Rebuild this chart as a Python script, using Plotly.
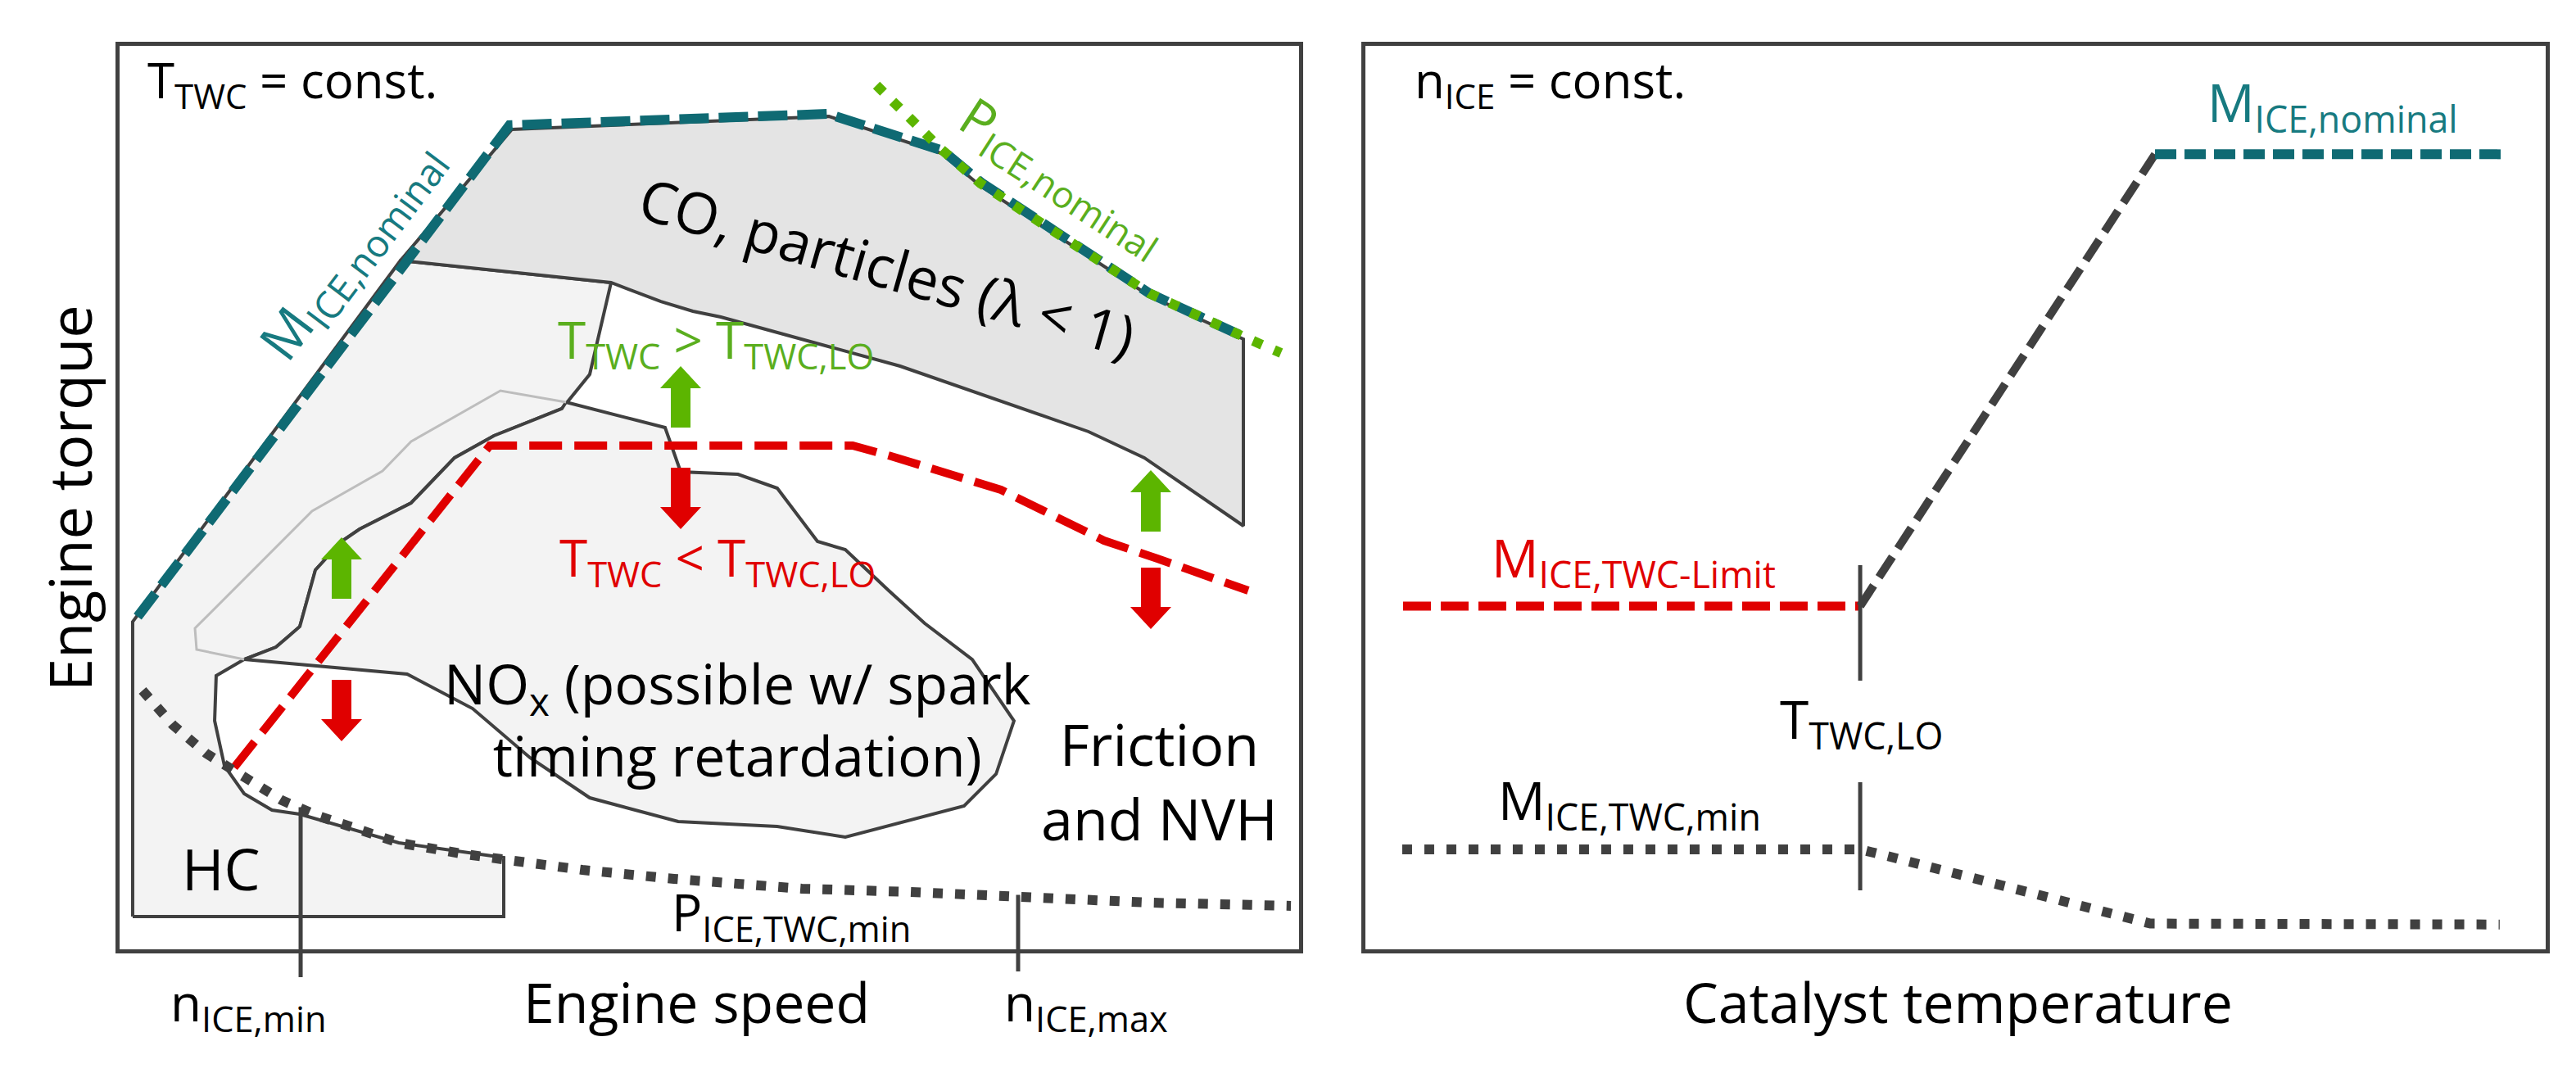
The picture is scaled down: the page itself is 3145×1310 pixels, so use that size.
import plotly.graph_objects as go

# ---------------- LEFT PANEL (normalised engine speed 0..100 / engine torque 0..100) ----------------
# HC / high-load operating region
hc_x = [1.11, 1.11, 23.82, 41.67, 39.86, 37.50, 31.74, 28.40, 24.72, 20.35, 18.82, 16.60, 15.28, 14.24,
        13.26, 10.56, 8.19, 8.06, 8.89, 10.56, 12.92, 15.28, 23.68, 32.57, 32.57, 1.11]
hc_y = [3.63, 36.26, 76.25, 73.80, 63.64, 59.84, 56.85, 54.40, 49.41, 46.51, 45.15, 41.98, 35.72, 34.54,
        33.45, 32.09, 30.28, 25.29, 20.31, 17.23, 15.41, 14.96, 11.79, 10.15, 3.63, 3.63]

# NOx region
nox_x = [37.85, 46.25, 47.57, 52.43, 55.76, 59.17, 61.53, 65.21, 68.26, 72.29, 75.83, 74.31, 71.60, 66.18,
         61.53, 55.76, 47.36, 39.86, 34.79, 29.93, 24.38, 10.56, 13.26, 14.24, 15.28, 16.60, 18.82, 20.35,
         24.72, 28.40, 31.74, 37.50, 37.85]
nox_y = [60.56, 57.75, 52.86, 52.58, 51.04, 45.15, 44.24, 39.71, 36.08, 32.09, 25.29, 19.40, 15.87, 14.05,
         12.42, 13.60, 14.14, 16.77, 21.22, 26.65, 30.46, 32.09, 33.45, 34.54, 35.72, 41.98, 45.15, 46.51,
         49.41, 54.40, 56.85, 59.84, 60.56]

# CO, particles region
co_x = [23.82, 33.26, 60.14, 69.65, 72.99, 87.29, 95.28, 95.28, 86.88, 82.15, 66.18, 50.97, 48.61, 45.90, 41.67, 23.82]
co_y = [76.25, 90.75, 92.20, 88.12, 84.50, 72.35, 67.54, 46.87, 54.40, 57.30, 64.55, 69.99, 70.63, 71.71, 73.80, 76.25]

# thin grey contour inside HC region
grey_x = [37.85, 32.29, 24.72, 22.29, 16.32, 6.39, 6.53, 10.56]
grey_y = [60.56, 61.83, 56.21, 52.95, 48.50, 35.54, 33.18, 32.09]

# nominal torque curve M_ICE,nominal
mnom_x = [1.53, 33.06, 60.07, 69.79, 73.06, 87.29, 95.28]
mnom_y = [36.81, 91.21, 92.47, 88.40, 84.86, 72.62, 67.82]

# nominal power curve P_ICE,nominal
pnom_x = [64.17, 69.65, 72.99, 87.29, 95.28, 98.47]
pnom_y = [95.65, 88.58, 84.77, 72.62, 67.82, 66.00]

# TWC torque limit
mlim_x = [9.72, 31.39, 62.15, 65.42, 74.72, 83.47, 87.99, 95.69]
mlim_y = [20.13, 55.76, 55.76, 54.58, 50.86, 45.24, 43.25, 39.71]

# minimum power P_ICE,TWC,min
pmin_x = [1.94, 4.51, 7.36, 10.56, 13.75, 16.81, 23.68, 29.31, 33.68, 39.24, 47.01, 57.85, 67.08, 76.39, 87.29, 99.31]
pmin_y = [28.65, 24.84, 21.67, 18.95, 16.50, 14.78, 11.79, 10.52, 9.70, 8.79, 7.80, 6.71, 6.35, 5.71, 5.17, 4.81]

# speed limits (x position, top, bottom)
nmin_x, nmin_top, nmin_bot = 15.35, 15.87, -3.08
nmax_x, nmax_top, nmax_bot = 76.18, 6.17, -2.45

# arrows (x, start y, end y)
green_arrow_x = [47.57, 18.82, 87.43]
green_arrow_y0 = [57.75, 38.80, 46.24]
green_arrow_y1 = [64.55, 45.60, 53.04]
red_arrow_x = [47.57, 18.82, 87.43]
red_arrow_y0 = [53.31, 29.83, 42.25]
red_arrow_y1 = [46.51, 23.03, 35.45]

# ---------------- RIGHT PANEL (normalised catalyst temperature / torque) ----------------
r_nom_x = [66.90, 96.67]
r_nom_y = [88.0, 88.0]
r_ramp_x = [41.92, 66.90]
r_ramp_y = [37.99, 88.0]
r_lim_x = [3.19, 41.92]
r_lim_y = [37.99, 37.99]
r_min_x = [3.12, 41.92, 44.0, 64.5, 66.5, 96.1]
r_min_y = [11.06, 11.06, 10.4, 3.4, 2.85, 2.75]
t_lo_x = 41.92
t_lo_seg1 = [42.52, 29.74]
t_lo_seg2 = [18.49, 6.53]

# ---------------- styling ----------------
W, H = 3145, 1310
LX0, LX1, RX0, RX1 = 138, 1578, 1659, 3100
Y_TOP, Y_BOT = 48, 1151
FONT = "Open Sans"
DARK = "#404040"
TEAL = "#0f6a73"
TEAL_TXT = "#177a80"
RED = "#e00000"
GREEN = "#5cb500"
GREEN_TXT = "#5aae1e"
LIGHT = "#f3f3f3"
MID = "#e4e4e4"

px_x = (LX1 - LX0) / 100.0
px_y = (Y_BOT - Y_TOP) / 100.0

fig = go.Figure()


def poly(x, y, fill):
    fig.add_trace(go.Scatter(x=x, y=y, mode="lines", fill="toself", fillcolor=fill,
                             line=dict(color=DARK, width=4), hoverinfo="skip", showlegend=False))


poly(hc_x, hc_y, LIGHT)
poly(nox_x, nox_y, LIGHT)
poly(co_x, co_y, MID)
fig.add_trace(go.Scatter(x=grey_x, y=grey_y, mode="lines", line=dict(color="#bdbdbd", width=3),
                         hoverinfo="skip", showlegend=False))
fig.add_trace(go.Scatter(x=mlim_x, y=mlim_y, mode="lines", line=dict(color=RED, width=10, dash="40px,15px"),
                         hoverinfo="skip", showlegend=False))
fig.add_trace(go.Scatter(x=mnom_x, y=mnom_y, mode="lines", line=dict(color=TEAL, width=12, dash="36px,12px"),
                         hoverinfo="skip", showlegend=False))
fig.add_trace(go.Scatter(x=pnom_x, y=pnom_y, mode="lines", line=dict(color=GREEN, width=12, dash="12px,16px"),
                         hoverinfo="skip", showlegend=False))
fig.add_trace(go.Scatter(x=pmin_x, y=pmin_y, mode="lines", line=dict(color=DARK, width=12, dash="12px,15px"),
                         hoverinfo="skip", showlegend=False))


def arrows(xs, y0s, y1s, color):
    shaft = 12 / px_x
    head = 25 / px_x
    hlen = 27 / px_y
    for x, y0, y1 in zip(xs, y0s, y1s):
        d = 1 if y1 > y0 else -1
        yb = y1 - d * hlen
        ax = [x - shaft, x - shaft, x - head, x, x + head, x + shaft, x + shaft, x - shaft]
        ay = [y0, yb, yb, y1, yb, yb, y0, y0]
        fig.add_trace(go.Scatter(x=ax, y=ay, mode="lines", fill="toself", fillcolor=color,
                                 line=dict(color=color, width=0), hoverinfo="skip", showlegend=False))


arrows(green_arrow_x, green_arrow_y0, green_arrow_y1, GREEN)
arrows(red_arrow_x, red_arrow_y0, red_arrow_y1, RED)

# right panel traces
fig.add_trace(go.Scatter(x=r_lim_x, y=r_lim_y, mode="lines", line=dict(color=RED, width=11, dash="34px,12px"),
                         xaxis="x2", yaxis="y2", hoverinfo="skip", showlegend=False))
fig.add_trace(go.Scatter(x=r_ramp_x, y=r_ramp_y, mode="lines", line=dict(color=DARK, width=10, dash="30px,12px"),
                         xaxis="x2", yaxis="y2", hoverinfo="skip", showlegend=False))
fig.add_trace(go.Scatter(x=r_nom_x, y=r_nom_y, mode="lines", line=dict(color=TEAL, width=12, dash="26px,10px"),
                         xaxis="x2", yaxis="y2", hoverinfo="skip", showlegend=False))
fig.add_trace(go.Scatter(x=r_min_x, y=r_min_y, mode="lines", line=dict(color=DARK, width=12, dash="12px,15px"),
                         xaxis="x2", yaxis="y2", hoverinfo="skip", showlegend=False))
for seg in (t_lo_seg1, t_lo_seg2):
    fig.add_trace(go.Scatter(x=[t_lo_x, t_lo_x], y=seg, mode="lines", line=dict(color=DARK, width=5),
                             xaxis="x2", yaxis="y2", hoverinfo="skip", showlegend=False))

ann = []


def txt(x, y, s, size=62, color="black", angle=0, xref="x", yref="y", xanchor="center"):
    ann.append(dict(x=x, y=y, xref=xref, yref=yref, text=s, showarrow=False, textangle=angle,
                    xanchor=xanchor, yanchor="middle",
                    font=dict(family=FONT, size=size, color=color)))


# speed limit tick lines (drawn as annotation lines so they can cross the frame)
for x, top, bot in ((nmin_x, nmin_top, nmin_bot), (nmax_x, nmax_top, nmax_bot)):
    ann.append(dict(x=x, y=bot, ax=x, ay=top, xref="x", yref="y", axref="x", ayref="y", text="",
                    showarrow=True, arrowhead=0, arrowwidth=5, arrowcolor=DARK))

BOTTOM_Y = 1 - 1214 / H  # paper position of the axis-title row

# left panel text
txt(2.2, 96.0, "T<sub>TWC</sub> = const.", 60, xanchor="left")
txt(76 / W, 49.95, "Engine torque", 72, angle=-90, xref="paper")
txt(48.89, BOTTOM_Y, "Engine speed", 68, yref="paper")
txt(10.97, BOTTOM_Y - 0.004, "n<sub>ICE,min</sub>", 62, yref="paper")
txt(81.94, BOTTOM_Y - 0.004, "n<sub>ICE,max</sub>", 62, yref="paper")
txt(56.94, 3.8, "P<sub>ICE,TWC,min</sub>", 62)
txt(8.61, 8.98, "HC", 70)
txt(88.13, 18.6, "Friction<br>and NVH", 70)
txt(52.43, 25.48, "NO<sub>x</sub> (possible w/ spark<br>timing retardation)", 68)
txt(65.07, 75.6, "CO, particles (λ < 1)", 70, angle=16)
txt(19.6, 77.3, "M<sub>ICE,nominal</sub>", 66, color=TEAL_TXT, angle=-53)
txt(80.0, 85.6, "P<sub>ICE,nominal</sub>", 64, color=GREEN_TXT, angle=33)
txt(50.56, 67.18, "T<sub>TWC</sub> > T<sub>TWC,LO</sub>", 62, color=GREEN_TXT)
txt(50.69, 43.06, "T<sub>TWC</sub> < T<sub>TWC,LO</sub>", 62, color=RED)


def txt2(x, y, s, size=62, color="black", xanchor="center", yref="y2"):
    txt(x, y, s, size, color, 0, "x2", yref, xanchor)


txt2(4.0, 96.0, "n<sub>ICE</sub> = const.", 60, xanchor="left")
txt2(81.96, 93.47, "M<sub>ICE,nominal</sub>", 64, color=TEAL_TXT)
txt2(22.76, 43.06, "M<sub>ICE,TWC-Limit</sub>", 64, color=RED)
txt2(42.05, 25.2, "T<sub>TWC,LO</sub>", 64)
txt2(22.41, 16.23, "M<sub>ICE,TWC,min</sub>", 64)
txt2(50.24, BOTTOM_Y, "Catalyst temperature", 68, yref="paper")

axis_common = dict(range=[0, 100], showgrid=False, zeroline=False, showticklabels=False, ticks="",
                   showline=True, linecolor=DARK, linewidth=5, mirror=True, fixedrange=True)

fig.update_layout(
    width=W, height=H,
    margin=dict(l=0, r=0, t=0, b=0),
    paper_bgcolor="white", plot_bgcolor="white",
    showlegend=False,
    xaxis=dict(domain=[LX0 / W, LX1 / W], anchor="y", **axis_common),
    yaxis=dict(domain=[1 - Y_BOT / H, 1 - Y_TOP / H], anchor="x", **axis_common),
    xaxis2=dict(domain=[RX0 / W, RX1 / W], anchor="y2", **axis_common),
    yaxis2=dict(domain=[1 - Y_BOT / H, 1 - Y_TOP / H], anchor="x2", **axis_common),
    annotations=ann,
    font=dict(family=FONT),
)

fig.write_html("out.html")
